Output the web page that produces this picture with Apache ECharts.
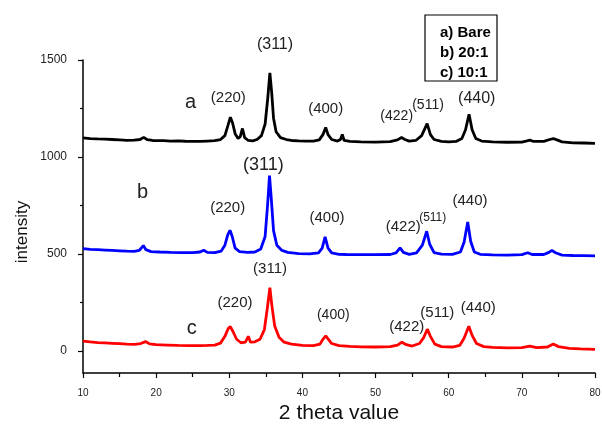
<!DOCTYPE html>
<html>
<head>
<meta charset="utf-8">
<script src="https://cdn.jsdelivr.net/npm/echarts@6/dist/echarts.min.js"></script>
<style>
  html, body { margin: 0; padding: 0; background: #fff; }
  #main { width: 602px; height: 426px; }
</style>
</head>
<body>
<div id="main"></div>
<script>
// curve a) Bare  -- [2theta, intensity]
var curveA = [
  [10,1098],[11,1095],[12,1093],[13,1092],[14,1090],[15,1088],[16,1086],[17,1087],
  [17.8,1090],[18.3,1101],[18.8,1089],[19.5,1085],[21,1084],[22,1082],[23,1083],
  [24,1081],[25,1080],[26,1080],[27,1082],[28,1084],[28.8,1090],[29.4,1110],
  [29.8,1160],[30.15,1205],[30.45,1175],[30.8,1120],[31.2,1095],[31.5,1105],
  [31.8,1147],[32.1,1100],[32.6,1085],[33.2,1083],[33.8,1090],[34.4,1110],
  [34.9,1170],[35.25,1300],[35.55,1433],[35.8,1330],[36.05,1200],[36.4,1130],
  [37,1100],[37.8,1090],[38.5,1085],[39.5,1083],[40.5,1082],[41.5,1082],
  [42.3,1088],[42.8,1115],[43.18,1152],[43.5,1115],[44,1090],[44.8,1082],
  [45.2,1090],[45.45,1116],[45.7,1085],[46.5,1080],[48,1078],[50,1077],[52,1079],
  [53,1088],[53.55,1100],[54,1090],[54.6,1082],[55.5,1085],[56.3,1110],
  [57.05,1172],[57.5,1115],[58,1090],[59,1080],[60,1078],[61,1080],[61.8,1095],
  [62.3,1140],[62.78,1220],[63.2,1140],[63.7,1095],[64.5,1082],[66,1078],
  [68,1076],[70,1077],[70.7,1083],[71.1,1087],[71.6,1080],[73,1080],[73.8,1090],
  [74.3,1095],[74.8,1088],[75.5,1078],[77,1073],[78.5,1072],[80,1070]
];

// curve b) 20:1
var curveB = [
  [10,527],[11,524],[12,522],[13,520],[14,518],[15,516],[16,514],[17,513],
  [17.7,518],[18.25,543],[18.6,522],[19.3,512],[20.5,510],[22,508],[23.5,507],
  [25,507],[26,510],[26.5,519],[27,508],[28,507],[28.9,515],[29.4,545],
  [29.8,600],[30.1,622],[30.4,590],[30.8,530],[31.4,512],[32.5,508],[33.5,510],
  [34.3,525],[34.9,590],[35.25,760],[35.5,904],[35.75,780],[36.05,620],
  [36.5,545],[37.2,518],[38,508],[39.5,502],[41,500],[42.2,505],[42.7,530],
  [43.1,588],[43.5,530],[44,505],[45,498],[46,497],[48,496],[50,496],[52,497],
  [52.8,505],[53.35,531],[53.8,508],[54.6,498],[55.6,505],[56.4,545],
  [56.99,617],[57.4,550],[58,507],[59,499],[60.5,498],[61.6,510],[62.1,560],
  [62.6,665],[63,565],[63.5,510],[64.3,498],[66,495],[68,494],[70,496],
  [70.8,506],[71.4,497],[73,497],[73.7,508],[74.1,518],[74.6,506],[75.5,494],
  [77,492],[78.5,491],[80,490]
];

// curve c) 10:1
var curveC = [
  [10,50],[11,46],[12,43],[13,41],[14,39],[15,37],[16,35],[17,34],[17.9,38],
  [18.55,48],[19.1,36],[20,32],[21.5,30],[23,28],[24.5,27],[26,27],[27,28],
  [28,30],[28.8,40],[29.4,75],[29.85,115],[30.15,125],[30.5,100],[31,60],
  [31.6,42],[32.2,45],[32.6,75],[32.9,45],[33.5,47],[34.2,60],[34.8,110],
  [35.2,220],[35.55,326],[35.8,240],[36.2,130],[36.8,70],[37.5,45],[38.5,35],
  [40,28],[41.5,27],[42.4,35],[42.8,60],[43.18,78],[43.5,62],[44,38],[45,27],
  [46.5,23],[48,21],[50,20],[52,22],[53,30],[53.6,45],[54.2,32],[55,25],
  [56,38],[56.6,70],[57.07,112],[57.5,75],[58.1,35],[59,22],[60.5,20],
  [61.5,28],[62.1,65],[62.75,127],[63.2,80],[63.8,38],[64.8,22],[66,18],
  [68,16],[70,17],[71.1,24],[72,17],[73.5,20],[74.3,35],[75,22],[76.5,13],
  [78,10],[80,8]
];

var xTicks = [10, 20, 30, 40, 50, 60, 70, 80];
var yTicks = [0, 500, 1000, 1500];
var yMinorTicks = [250, 750, 1250];
var legendLines = ['a) Bare', 'b) 20:1', 'c) 10:1'];

// peak labels, [2theta, intensity, text]
var labelsA = [[24.7,1280,'a'],[29.87,1306,'(220)'],[36.25,1581,'(311)'],[43.18,1249,'(400)'],
  [52.89,1211,'(422)'],[57.17,1268,'(511)'],[63.83,1301,'(440)']];
var labelsB = [[18.16,815,'b'],[29.78,737,'(220)'],[34.65,958,'(311)'],[43.36,685,'(400)'],
  [53.79,639,'(422)'],[57.81,689,'(511)'],[62.91,775,'(440)']];
var labelsC = [[24.86,117,'c'],[30.78,250,'(220)'],[35.57,424,'(311)'],[44.22,186,'(400)'],
  [54.26,126,'(422)'],[58.44,198,'(511)'],[64.05,224,'(440)']];
var sizesA = [20, 15, 16, 15, 14, 14, 16];
var sizesB = [20, 15, 18, 15, 15, 12, 15];
var sizesC = [20, 15, 15, 14, 15, 15, 15];

var FONT = 'Liberation Sans, Arial, sans-serif';
var chart = echarts.init(document.getElementById('main'));

function curve(name, data, color) {
  return {
    name: name, type: 'line', data: data, showSymbol: false, symbol: 'none',
    lineStyle: { color: color, width: 2.8 }, itemStyle: { color: color },
    animation: false
  };
}

var option = {
  backgroundColor: '#fff',
  animation: false,
  grid: { left: 83, right: 7, top: 60, bottom: 53, outerBoundsMode: 'none', containLabel: false },
  xAxis: {
    type: 'value', min: xTicks[0], max: xTicks[xTicks.length - 1], interval: 10,
    name: '2 theta value', nameLocation: 'middle', nameGap: 29,
    nameTextStyle: { fontFamily: FONT, fontSize: 21, color: '#111' },
    axisLine: { onZero: false, lineStyle: { color: '#000', width: 1.5 } },
    axisTick: { length: 5, lineStyle: { color: '#000', width: 1.2 } },
    minorTick: { show: true, splitNumber: 2, length: 4, lineStyle: { color: '#000', width: 1.2 } },
    axisLabel: { fontFamily: FONT, fontSize: 10, color: '#222', margin: 15 },
    splitLine: { show: false }
  },
  yAxis: [{
    type: 'value', min: -114, max: 1500,
    axisLine: { show: true, onZero: false, lineStyle: { color: '#000', width: 1.5 } },
    axisTick: { show: true, length: 5, customValues: yTicks, lineStyle: { color: '#000', width: 1.2 } },
    axisLabel: { customValues: yTicks, fontFamily: FONT, fontSize: 12, color: '#222', margin: 16,
                 formatter: function (v) { return String(v); } },
    splitLine: { show: false }
  }, {
    type: 'value', min: -114, max: 1500, position: 'left', offset: 0,
    axisLine: { show: false, onZero: false },
    axisTick: { show: true, length: 3, customValues: yMinorTicks, lineStyle: { color: '#000', width: 1.2 } },
    axisLabel: { show: false },
    splitLine: { show: false }
  }],
  series: [
    curve('a', curveA, '#000000'),
    curve('b', curveB, '#0000ff'),
    curve('c', curveC, '#ff0000')
  ]
};
chart.setOption(option);

// peak labels placed through the axes
var graphics = [];
function addLabels(list, sizes, key) {
  list.forEach(function (l, i) {
    var p = chart.convertToPixel({ xAxisIndex: 0, yAxisIndex: 0 }, [l[0], l[1]]);
    graphics.push({
      type: 'text', id: key + i, x: p[0], y: p[1], z: 10,
      style: { text: l[2], fontFamily: FONT, fontSize: sizes[i], fill: '#222',
               align: 'center', verticalAlign: 'middle' }
    });
  });
}
addLabels(labelsA, sizesA, 'la');
addLabels(labelsB, sizesB, 'lb');
addLabels(labelsC, sizesC, 'lc');

// y axis title
graphics.push({
  type: 'text', id: 'yname', x: 22, y: 232, rotation: Math.PI / 2,
  style: { text: 'intensity', fontFamily: FONT, fontSize: 17, fill: '#111',
           align: 'center', verticalAlign: 'middle' }
});

// legend box
graphics.push({
  type: 'rect', id: 'legbox', shape: { x: 425, y: 15, width: 72, height: 66 },
  style: { fill: '#fff', stroke: '#000', lineWidth: 1.2 }, z: 20
});
legendLines.forEach(function (t, i) {
  graphics.push({
    type: 'text', id: 'leg' + i, x: 440, y: 33 + i * 19.7, z: 21,
    style: { text: t, fontFamily: FONT, fontSize: 15, fontWeight: 'bold', fill: '#000',
             align: 'left', verticalAlign: 'middle' }
  });
});

chart.setOption({ graphic: graphics });
</script>
</body>
</html>
